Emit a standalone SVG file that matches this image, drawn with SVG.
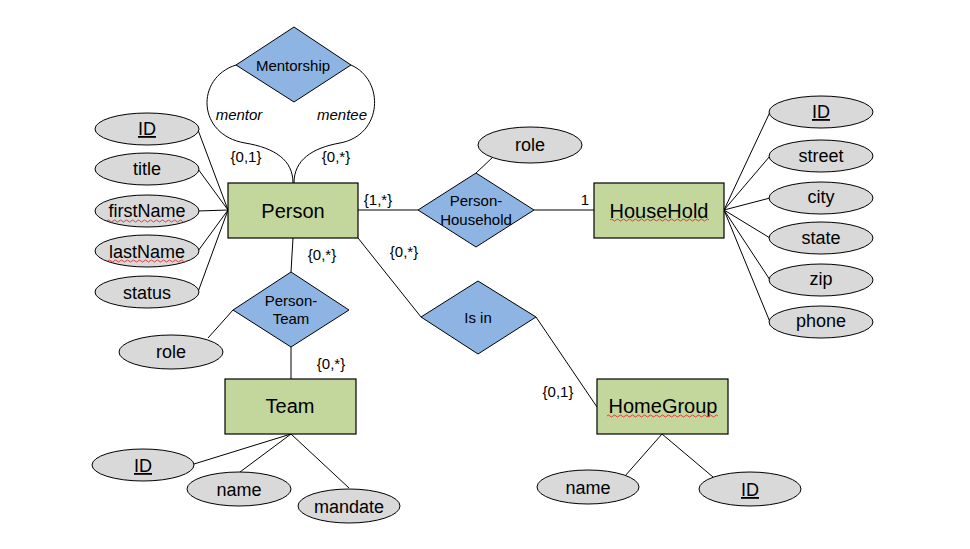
<svg xmlns="http://www.w3.org/2000/svg" width="970" height="549" viewBox="0 0 970 549">
<style>
text{font-family:"Liberation Sans",Arial,sans-serif;fill:#000;text-anchor:middle}
.ent{fill:#C3D69B;stroke:#000;stroke-width:1.2}
.rel{fill:#8EB4E3;stroke:#000;stroke-width:1}
.att{fill:#D9D9D9;stroke:#000;stroke-width:1}
.et{font-size:20px}
.at{font-size:18px}
.rt{font-size:15px}
.ct{font-size:15px}
.it{font-size:15px;font-style:italic}
.u{text-decoration:underline}
.sq{fill:none;stroke:#E03030;stroke-width:0.9}
#connectors path,#connectors line{stroke:#000;stroke-width:1;fill:none}
</style>
<rect width="970" height="549" fill="#fff"/>
<g id="connectors">
<path d="M236,65 C195,78 197,135 245,143 C275,148 293,160 293,183"/>
<path d="M351,65 C385,80 383,135 340,143 C312,148 294,160 294,183"/>
<line x1="198" y1="130" x2="228" y2="210"/>
<line x1="198" y1="169" x2="228" y2="210"/>
<line x1="198" y1="211" x2="228" y2="210"/>
<line x1="198" y1="251" x2="228" y2="210"/>
<line x1="198" y1="292" x2="228" y2="210"/>
<line x1="358" y1="210" x2="418" y2="210"/>
<line x1="534" y1="210" x2="594" y2="210"/>
<line x1="476" y1="173" x2="493" y2="157"/>
<line x1="724" y1="210" x2="770" y2="112"/>
<line x1="724" y1="210" x2="770" y2="156"/>
<line x1="724" y1="210" x2="770" y2="198"/>
<line x1="724" y1="210" x2="770" y2="238"/>
<line x1="724" y1="210" x2="770" y2="280"/>
<line x1="724" y1="210" x2="770" y2="322"/>
<line x1="293" y1="238" x2="291" y2="272"/>
<line x1="291" y1="347" x2="291" y2="379"/>
<line x1="233" y1="310" x2="208" y2="338"/>
<line x1="291" y1="434" x2="194" y2="464"/>
<line x1="291" y1="434" x2="240" y2="472"/>
<line x1="291" y1="434" x2="349" y2="488"/>
<line x1="358" y1="238" x2="421" y2="317"/>
<line x1="536" y1="317" x2="597" y2="407"/>
<line x1="662" y1="434" x2="625" y2="476"/>
<line x1="662" y1="434" x2="713" y2="477"/>
</g>
<g id="labels">
<text class="it" x="239" y="120">mentor</text>
<text class="it" x="342" y="120">mentee</text>
<text class="ct" x="246" y="162">{0,1}</text>
<text class="ct" x="336" y="162">{0,*}</text>
<text class="ct" x="378" y="205">{1,*}</text>
<text class="ct" x="585" y="205">1</text>
<text class="ct" x="404" y="257">{0,*}</text>
<text class="ct" x="322" y="260">{0,*}</text>
<text class="ct" x="331" y="369">{0,*}</text>
<text class="ct" x="558" y="397">{0,1}</text>
</g>
<g id="Person"><rect class="ent" x="228" y="183" width="130" height="55"/><text class="et" x="293" y="218">Person</text></g>
<g id="HouseHold"><rect class="ent" x="594" y="183" width="130" height="55"/><text class="et" x="659" y="218">HouseHold</text>
<path class="sq" d="M610,220 q1.5,-2 3,0 t3,0 t3,0 t3,0 t3,0 t3,0 t3,0 t3,0 t3,0 t3,0 t3,0 t3,0 t3,0 t3,0 t3,0 t3,0 t3,0 t3,0 t3,0 t3,0 t3,0 t3,0 t3,0 t3,0 t3,0 t3,0 t3,0 t3,0 t3,0 t3,0 t3,0 t3,0 t3,0"/></g>
<g id="Team"><rect class="ent" x="225" y="379" width="131" height="55"/><text class="et" x="290" y="413">Team</text></g>
<g id="HomeGroup"><rect class="ent" x="597" y="379" width="131" height="55"/><text class="et" x="663" y="413">HomeGroup</text>
<path class="sq" d="M607,416 q1.5,-2 3,0 t3,0 t3,0 t3,0 t3,0 t3,0 t3,0 t3,0 t3,0 t3,0 t3,0 t3,0 t3,0 t3,0 t3,0 t3,0 t3,0 t3,0 t3,0 t3,0 t3,0 t3,0 t3,0 t3,0 t3,0 t3,0 t3,0 t3,0 t3,0 t3,0 t3,0 t3,0 t3,0 t3,0 t3,0 t3,0 t3,0"/></g>
<g id="Mentorship"><polygon class="rel" points="236,65 294,27 351,65 294,102"/><text class="rt" x="293" y="71">Mentorship</text></g>
<g id="PersonHousehold"><polygon class="rel" points="418,210 476,173 534,210 476,247"/><text class="rt" x="476" y="206">Person-</text><text class="rt" x="476" y="225">Household</text></g>
<g id="PersonTeam"><polygon class="rel" points="233,310 291,272 349,310 291,347"/><text class="rt" x="291" y="306">Person-</text><text class="rt" x="291" y="324">Team</text></g>
<g id="IsIn"><polygon class="rel" points="421,317 478,281 536,317 478,354"/><text class="rt" x="478" y="323">Is in</text></g>
<g id="P_ID"><ellipse class="att" cx="147" cy="129" rx="52" ry="16"/><text class="at u" x="147" y="135">ID</text></g>
<g id="P_title"><ellipse class="att" cx="147" cy="169" rx="52" ry="16"/><text class="at" x="147" y="175">title</text></g>
<g id="P_firstName"><ellipse class="att" cx="147" cy="211" rx="52" ry="16"/><text class="at" x="147" y="217">firstName</text>
<path class="sq" d="M107,221 q1.5,-2 3,0 t3,0 t3,0 t3,0 t3,0 t3,0 t3,0 t3,0 t3,0 t3,0 t3,0 t3,0 t3,0 t3,0 t3,0 t3,0 t3,0 t3,0 t3,0 t3,0 t3,0 t3,0 t3,0 t3,0 t3,0 t3,0"/></g>
<g id="P_lastName"><ellipse class="att" cx="147" cy="251" rx="52" ry="16"/><text class="at" x="147" y="258">lastName</text>
<path class="sq" d="M108,261 q1.5,-2 3,0 t3,0 t3,0 t3,0 t3,0 t3,0 t3,0 t3,0 t3,0 t3,0 t3,0 t3,0 t3,0 t3,0 t3,0 t3,0 t3,0 t3,0 t3,0 t3,0 t3,0 t3,0 t3,0 t3,0 t3,0 t3,0"/></g>
<g id="P_status"><ellipse class="att" cx="147" cy="292" rx="52" ry="16"/><text class="at" x="147" y="299">status</text></g>
<g id="PH_role"><ellipse class="att" cx="530" cy="145" rx="52" ry="18"/><text class="at" x="530" y="151">role</text></g>
<g id="H_ID"><ellipse class="att" cx="821" cy="112" rx="52" ry="16"/><text class="at u" x="821" y="118">ID</text></g>
<g id="H_street"><ellipse class="att" cx="821" cy="156" rx="52" ry="16"/><text class="at" x="821" y="162">street</text></g>
<g id="H_city"><ellipse class="att" cx="821" cy="198" rx="52" ry="16"/><text class="at" x="821" y="203">city</text></g>
<g id="H_state"><ellipse class="att" cx="821" cy="238" rx="52" ry="16"/><text class="at" x="821" y="244">state</text></g>
<g id="H_zip"><ellipse class="att" cx="821" cy="280" rx="52" ry="16"/><text class="at" x="821" y="285">zip</text></g>
<g id="H_phone"><ellipse class="att" cx="821" cy="322" rx="52" ry="16"/><text class="at" x="821" y="327">phone</text></g>
<g id="PT_role"><ellipse class="att" cx="171" cy="352" rx="52" ry="17"/><text class="at" x="171" y="358">role</text></g>
<g id="T_ID"><ellipse class="att" cx="143" cy="465" rx="51" ry="16"/><text class="at u" x="143" y="472">ID</text></g>
<g id="T_name"><ellipse class="att" cx="239" cy="489" rx="52" ry="17"/><text class="at" x="239" y="496">name</text></g>
<g id="T_mandate"><ellipse class="att" cx="349" cy="506" rx="51" ry="17"/><text class="at" x="349" y="513">mandate</text></g>
<g id="G_name"><ellipse class="att" cx="588" cy="487" rx="51" ry="17"/><text class="at" x="588" y="494">name</text></g>
<g id="G_ID"><ellipse class="att" cx="750" cy="489" rx="51" ry="17"/><text class="at u" x="750" y="496">ID</text></g>
</svg>
